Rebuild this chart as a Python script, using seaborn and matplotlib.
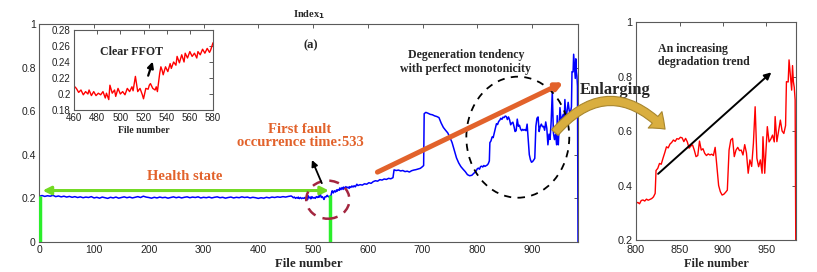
import numpy as np
import pandas as pd
import matplotlib
matplotlib.use("Agg")
import matplotlib.pyplot as plt
from matplotlib.patches import Ellipse, FancyArrowPatch
import seaborn as sns

# ---------------- data ----------------
health_files = [2] + list(range(5, 460, 5))
health_vals = [0.210, 0.212, 0.208, 0.211, 0.209, 0.213, 0.207, 0.210, 0.206, 0.209,
               0.205, 0.208, 0.204, 0.207, 0.203, 0.206, 0.202, 0.205, 0.203, 0.207,
               0.201, 0.204, 0.200, 0.205, 0.202, 0.199, 0.204, 0.201, 0.205, 0.200,
               0.203, 0.206, 0.202, 0.205, 0.201, 0.204, 0.207, 0.203, 0.209, 0.205,
               0.203, 0.200, 0.204, 0.201, 0.205, 0.202, 0.204, 0.200, 0.203, 0.206,
               0.202, 0.205, 0.201, 0.204, 0.206, 0.202, 0.205, 0.203, 0.206, 0.201,
               0.204, 0.202, 0.205, 0.201, 0.204, 0.206, 0.202, 0.204, 0.200, 0.203,
               0.205, 0.201, 0.204, 0.202, 0.206, 0.203, 0.205, 0.201, 0.204, 0.202,
               0.199, 0.202, 0.200, 0.204, 0.201, 0.205, 0.203, 0.206, 0.204, 0.207,
               0.205, 0.208]

ffot_files = [460, 462, 464, 466, 468, 470, 472, 473, 475, 477, 479, 481, 483, 485, 487,
              488, 490, 491, 493, 495, 496, 498, 500, 502, 504, 506, 508, 510, 511, 513,
              515, 517, 519, 520, 522, 524, 525, 526, 528, 530, 531, 532, 534, 535, 536,
              537, 539, 541, 543, 544, 546, 548, 549, 551, 553, 555, 556, 558, 560, 562,
              564, 566, 567, 569, 571, 573, 575, 577, 578, 580]
ffot_vals = [0.210, 0.207, 0.202, 0.205, 0.199, 0.203, 0.200, 0.205, 0.198, 0.203,
             0.198, 0.201, 0.199, 0.203, 0.195, 0.201, 0.193, 0.211, 0.201, 0.205,
             0.197, 0.207, 0.200, 0.203, 0.199, 0.207, 0.203, 0.209, 0.204, 0.222,
             0.203, 0.207, 0.199, 0.194, 0.207, 0.206, 0.211, 0.213, 0.207, 0.205,
             0.209, 0.203, 0.226, 0.234, 0.230, 0.224, 0.234, 0.228, 0.238, 0.232,
             0.240, 0.236, 0.247, 0.239, 0.249, 0.240, 0.251, 0.245, 0.253, 0.247,
             0.251, 0.245, 0.253, 0.249, 0.256, 0.251, 0.257, 0.252, 0.255, 0.264]

mid_files = [582, 586, 590, 594, 598, 602, 606, 610, 614, 618, 622, 626, 630, 634, 638,
             642, 646, 648, 652, 656, 660, 664, 668, 672, 676, 680, 684, 688, 692, 696,
             700, 702, 703, 706, 710, 714, 718, 722, 726, 730, 734, 738, 742, 746, 750,
             754, 758, 762, 766, 770, 774, 778, 782, 786, 790, 794, 798]
mid_vals = [0.258, 0.262, 0.260, 0.266, 0.264, 0.271, 0.268, 0.276, 0.280, 0.278,
            0.285, 0.283, 0.288, 0.286, 0.291, 0.289, 0.294, 0.330, 0.327, 0.329,
            0.325, 0.327, 0.322, 0.324, 0.320, 0.326, 0.329, 0.331, 0.334, 0.337,
            0.345, 0.350, 0.588, 0.594, 0.590, 0.585, 0.583, 0.578, 0.575, 0.570,
            0.545, 0.525, 0.512, 0.500, 0.479, 0.455, 0.420, 0.385, 0.362, 0.345,
            0.333, 0.322, 0.308, 0.303, 0.305, 0.315, 0.325]

late_files = [800, 802, 804, 806, 808, 810, 812, 814, 816, 818, 820, 822, 823, 825, 827,
              829, 831, 833, 835, 837, 839, 841, 843, 845, 847, 849, 851, 853, 855, 857,
              859, 861, 863, 865, 867, 869, 871, 873, 875, 877, 879, 881, 883, 885, 887,
              889, 891, 893, 895, 897, 899, 901, 903, 905, 907, 909, 911, 913, 915, 917,
              919, 921, 923, 925, 927, 929, 931, 933, 935, 937, 939, 941, 943, 945, 946,
              948, 950, 951, 953, 955, 957, 959, 960, 962, 964, 966, 968, 970, 972, 973,
              975, 976, 978, 979, 980, 981, 982, 983, 984]
late_vals = [0.335, 0.338, 0.333, 0.345, 0.347, 0.343, 0.350, 0.346, 0.349, 0.352,
             0.358, 0.371, 0.455, 0.463, 0.481, 0.478, 0.500, 0.520, 0.542, 0.538,
             0.552, 0.558, 0.567, 0.562, 0.572, 0.570, 0.577, 0.575, 0.561, 0.573,
             0.560, 0.537, 0.545, 0.549, 0.530, 0.506, 0.510, 0.563, 0.530, 0.535,
             0.518, 0.510, 0.516, 0.512, 0.515, 0.510, 0.540, 0.469, 0.400, 0.377,
             0.365, 0.368, 0.375, 0.383, 0.530, 0.567, 0.573, 0.506, 0.530, 0.540,
             0.528, 0.530, 0.512, 0.550, 0.520, 0.445, 0.494, 0.470, 0.555, 0.689,
             0.500, 0.469, 0.494, 0.445, 0.579, 0.445, 0.560, 0.616, 0.560, 0.570,
             0.585, 0.560, 0.653, 0.561, 0.600, 0.640, 0.600, 0.591, 0.620, 0.781,
             0.780, 0.861, 0.790, 0.750, 0.840, 0.781, 0.760, 0.714, 0.0]

files = health_files + ffot_files + mid_files + late_files
index1 = health_vals + ffot_vals + mid_vals + late_vals
df = pd.DataFrame({"file": files, "index": index1})

main_xticks = [0, 100, 200, 300, 400, 500, 600, 700, 800, 900]
main_yticks = [0, 0.2, 0.4, 0.6, 0.8, 1]
main_yticklabels = ["0", "0.2", "0.4", "0.6", "0.8", "1"]
inset_xticks = [460, 480, 500, 520, 540, 560, 580]
inset_yticks = [0.18, 0.2, 0.22, 0.24, 0.26, 0.28]
inset_yticklabels = ["0.18", "0.2", "0.22", "0.24", "0.26", "0.28"]
zoom_xticks = [800, 850, 900, 950]
zoom_yticks = [0.2, 0.4, 0.6, 0.8, 1]
zoom_yticklabels = ["0.2", "0.4", "0.6", "0.8", "1"]
fft_time = 533

# ---------------- style ----------------
sns.set_theme(style="white")
plt.rcParams["font.family"] = ["Liberation Sans", "DejaVu Sans"]
SERIF = ["Liberation Serif", "DejaVu Serif"]
ORANGE = "#E2622B"
LIME = "#72DA22"
GREEN = "#2BEE2B"
GRAY = "#5a5a5a"

fig = plt.figure(figsize=(8.17, 2.72), dpi=100)
ax = fig.add_axes([0.0481, 0.1114, 0.6594, 0.8004])
axr = fig.add_axes([0.7785, 0.1176, 0.1958, 0.8015])
axi = fig.add_axes([0.0906, 0.5956, 0.1701, 0.2941])


def style(a, size):
    for s in a.spines.values():
        s.set_color(GRAY)
        s.set_linewidth(0.8)
    a.tick_params(direction="in", top=True, right=True, length=3, width=0.7,
                  color=GRAY, labelsize=size, labelcolor="#222222", pad=2.5)


# main panel
sns.lineplot(data=df, x="file", y="index", ax=ax, color="#0000FF", lw=1.1,
             estimator=None, errorbar=None, sort=False)
ax.set_xlim(0, 984)
ax.set_ylim(0, 1)
ax.set_xticks(main_xticks)
ax.set_yticks(main_yticks)
ax.set_yticklabels(main_yticklabels)
ax.set_ylabel("")
ax.set_xlabel("File number", fontfamily=SERIF, fontweight="bold", fontsize=9.3, labelpad=2)
ax.set_title("Index$_\\mathbf{1}$", fontfamily=SERIF, fontweight="bold", fontsize=7.5, pad=5)
style(ax, 7.5)

ax.plot([2, 2], [0, 0.21], color=GREEN, lw=2.5, solid_capstyle="butt", zorder=3)
ax.plot([531, 531], [0, 0.214], color=GREEN, lw=2.5, solid_capstyle="butt", zorder=3)
ax.add_patch(FancyArrowPatch((1, 0.235), (fft_time + 1, 0.235), arrowstyle="<|-|>",
                             mutation_scale=12, lw=2.2, color=LIME, zorder=4))
ax.text(266, 0.299, "Health state", color=ORANGE, fontfamily=SERIF, fontweight="bold",
        fontsize=10.5, ha="center", va="center")
ax.text(476, 0.486, "First fault\noccurrence time:533", color=ORANGE, fontfamily=SERIF,
        fontweight="bold", fontsize=10.5, ha="center", va="center", linespacing=1.05)
ax.add_patch(FancyArrowPatch((518, 0.257), (496, 0.387), arrowstyle="-|>",
                             mutation_scale=9, lw=1.3, color="black", zorder=5))
ax.add_patch(Ellipse((527, 0.193), 79, 0.175, fill=False, ec="#A3263F", lw=1.8,
                     ls=(0, (4, 3)), zorder=4))
ax.add_patch(Ellipse((874, 0.48), 188, 0.556, fill=False, ec="black", lw=1.3,
                     ls=(0, (4, 3.5)), zorder=4))
ax.add_patch(FancyArrowPatch((613, 0.314), (962, 0.737), arrowstyle="-|>",
                             mutation_scale=10, lw=3.6, color=ORANGE, zorder=5))
ax.text(496, 0.90, "(a)", fontfamily=SERIF, fontweight="bold", fontsize=9,
        ha="center", va="center")
ax.text(779, 0.825, "Degeneration tendency\nwith perfect monotonicity", fontfamily=SERIF,
        fontweight="bold", fontsize=8.6, ha="center", va="center", linespacing=1.15)

# inset
axi.set_facecolor("white")
sns.lineplot(data=df, x="file", y="index", ax=axi, color="#FF0000", lw=1.0,
             estimator=None, errorbar=None, sort=False)
axi.set_xlim(460, 580)
axi.set_ylim(0.18, 0.28)
axi.set_xticks(inset_xticks)
axi.set_yticks(inset_yticks)
axi.set_yticklabels(inset_yticklabels)
axi.set_ylabel("")
axi.set_xlabel("File number", fontfamily=SERIF, fontweight="bold", fontsize=7, labelpad=1.5)
style(axi, 7)
axi.text(510, 0.2529, "Clear FFOT", fontfamily=SERIF, fontweight="bold", fontsize=8.6,
         ha="center", va="center")
axi.add_patch(FancyArrowPatch((523.3, 0.2196), (528.7, 0.2438), arrowstyle="-|>",
                              mutation_scale=9, lw=1.6, color="black", zorder=5))

# zoomed panel
sns.lineplot(data=df, x="file", y="index", ax=axr, color="#FF0000", lw=1.0,
             estimator=None, errorbar=None, sort=False)
axr.set_xlim(800, 984)
axr.set_ylim(0.2, 1)
axr.set_xticks(zoom_xticks)
axr.set_yticks(zoom_yticks)
axr.set_yticklabels(zoom_yticklabels)
axr.set_ylabel("")
axr.set_xlabel("File number", fontfamily=SERIF, fontweight="bold", fontsize=8.8, labelpad=2)
style(axr, 7.8)
axr.tick_params(axis="x", pad=3.5)
axr.text(825, 0.876, "An increasing\ndegradation trend", fontfamily=SERIF, fontweight="bold",
         fontsize=8.6, ha="left", va="center", linespacing=1.15)
axr.add_patch(FancyArrowPatch((823, 0.436), (958, 0.822), arrowstyle="-|>",
                              mutation_scale=10, lw=1.4, color="black", zorder=5))

# enlarging arrow (figure coordinates)
fig.text(0.7528, 0.670, "Enlarging", fontfamily=SERIF, fontweight="bold", fontsize=12,
         ha="center", va="center")
fig.patches.append(FancyArrowPatch((0.6769, 0.505), (0.8164, 0.518),
                                   transform=fig.transFigure, figure=fig,
                                   connectionstyle="arc3,rad=-0.56",
                                   arrowstyle="simple,head_length=0.7,head_width=1.1,tail_width=0.45",
                                   mutation_scale=14, fc="#D9AE3F", ec="#A8862E", lw=0.8,
                                   zorder=10))

fig.savefig("out.png", dpi=100)
